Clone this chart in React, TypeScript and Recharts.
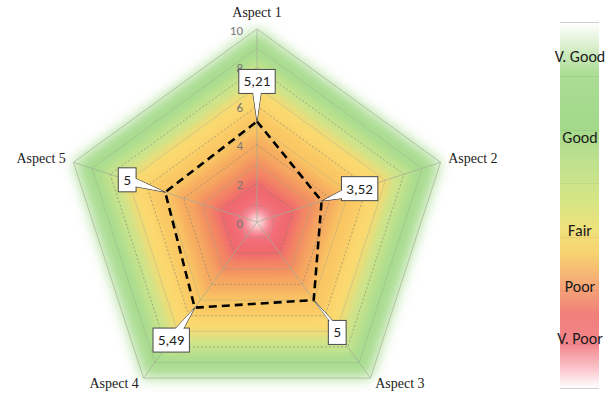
import React from 'react';
import { RadarChart, Radar, PolarAngleAxis, PolarRadiusAxis, LabelList } from 'recharts';

// scores per aspect, 0..10 scale
const aspects = ['Aspect 1', 'Aspect 2', 'Aspect 3', 'Aspect 4', 'Aspect 5'];
const scores = [5.21, 3.52, 5, 5.49, 5];
const radiusTicks = [0, 2, 4, 6, 8, 10];

// background rating bands, drawn outer to inner
const bandLevels = [10, 8.4, 7.3, 6.0, 4.6, 3.4, 2.4, 1.3, 0.5];
const bandColors = ['#a8dc8f', '#cbe48c', '#fbd96f', '#fac864', '#f6aa60', '#f38a62', '#f0686e', '#f47482', '#ffffff'];
const ringLevels = [9, 7, 5, 3, 1];

const ratingLabels = ['V. Good', 'Good', 'Fair', 'Poor', 'V. Poor'];

const W = 609;
const H = 397;
const CX = 257;
const CY = 222;
const OUTER = 193;
const SANS = 'Carlito, Calibri, Lato, sans-serif';
const SERIF = '"Liberation Serif", "DejaVu Serif", serif';

const legendLabelY = [57, 138, 231, 287, 339];

const data = aspects.map((name, i) => {
  const row: Record<string, number | string> = { name, score: scores[i], frame: 10 };
  bandLevels.forEach((v, b) => (row[`band${b}`] = v));
  return row;
});

const toPoints = (pts: { x: number; y: number }[], k = 1) =>
  pts.map((p) => `${CX + (p.x - CX) * k},${CY + (p.y - CY) * k}`).join(' ');

const bandShape = (color: string, idx: number) => (props: any) => (
  <g>
    {idx === 0 && (
      <defs>
        <filter id="bandBlurWide" x="-30%" y="-30%" width="160%" height="160%">
          <feGaussianBlur stdDeviation="7" />
        </filter>
        <filter id="bandBlur" x="-30%" y="-30%" width="160%" height="160%">
          <feGaussianBlur stdDeviation="5.5" />
        </filter>
      </defs>
    )}
    <polygon
      points={toPoints(props.points)}
      fill={color}
      filter={idx === 0 ? 'url(#bandBlurWide)' : 'url(#bandBlur)'}
    />
  </g>
);

// spokes, dotted rings at the radius ticks, faint rings in between, solid outline
const FrameShape = (props: any) => {
  const pts = props.points as { x: number; y: number }[];
  return (
    <g>
      {ringLevels.map((v) => (
        <polygon key={`r${v}`} points={toPoints(pts, v / 10)} fill="none" stroke="#9aa58f" strokeOpacity={0.45} strokeWidth={0.8} />
      ))}
      {radiusTicks
        .filter((t) => t > 0 && t < 10)
        .map((t) => (
          <polygon key={`t${t}`} points={toPoints(pts, t / 10)} fill="none" stroke="#7a7a7a" strokeOpacity={0.7} strokeWidth={0.8} strokeDasharray="2 2" />
        ))}
      {pts.map((p, i) => (
        <line key={`s${i}`} x1={CX} y1={CY} x2={p.x} y2={p.y} stroke="#a3ad98" strokeOpacity={0.8} strokeWidth={0.9} />
      ))}
      <polygon points={toPoints(pts)} fill="none" stroke="#b2c2a6" strokeWidth={1} />
    </g>
  );
};

const Callout = (props: any) => {
  const px = props.x ?? props.viewBox?.x;
  const py = props.y ?? props.viewBox?.y;
  if (px == null || py == null) return null;
  const text = String(props.value).replace('.', ',');
  const dx = px - CX;
  const dy = py - CY;
  const len = Math.hypot(dx, dy) || 1;
  const bx = px + (dx / len) * 40;
  const by = py + (dy / len) * 40;
  const digits = text.replace(/[^0-9]/g, '').length;
  const w = 10 + digits * 7.8 + (text.includes(',') ? 3 : 0);
  const h = 24;

  // tail base where the line from the box centre to the point leaves the box
  const ex = px - bx;
  const ey = py - by;
  const tx = Math.abs(ex) > 0.001 ? w / 2 / Math.abs(ex) : Infinity;
  const ty = Math.abs(ey) > 0.001 ? h / 2 / Math.abs(ey) : Infinity;
  const t = Math.min(tx, ty);
  const b0x = bx + ex * t;
  const b0y = by + ey * t;
  let base: [number, number][];
  if (tx < ty) {
    const y1 = Math.max(by - h / 2 + 1, b0y - 4);
    const y2 = Math.min(by + h / 2 - 1, b0y + 4);
    base = [[b0x, y1], [b0x, y2]];
  } else {
    const x1 = Math.max(bx - w / 2 + 1, b0x - 4);
    const x2 = Math.min(bx + w / 2 - 1, b0x + 4);
    base = [[x1, b0y], [x2, b0y]];
  }
  const n = Math.hypot(ex, ey) || 1;
  const inx = (-ex / n) * 1.5;
  const iny = (-ey / n) * 1.5;
  const tail = `${base[0][0]},${base[0][1]} ${base[1][0]},${base[1][1]} ${px},${py}`;
  const cover = `${base[0][0] + inx},${base[0][1] + iny} ${base[1][0] + inx},${base[1][1] + iny} ${px - (ex / n) * 2},${py - (ey / n) * 2}`;

  return (
    <g>
      <polygon points={tail} fill="#fff" stroke="#4a4a4a" strokeWidth={1} />
      <rect x={bx - w / 2} y={by - h / 2} width={w} height={h} fill="#fff" stroke="#4a4a4a" strokeWidth={1} />
      <polygon points={cover} fill="#fff" />
      <text x={bx} y={by} textAnchor="middle" dominantBaseline="central" fontFamily={SANS} fontSize={15} fill="#1f1f1f">
        {text}
      </text>
    </g>
  );
};

const AngleTick = (props: any) => {
  const { x, y, payload, textAnchor } = props;
  const top = y < CY - OUTER * 0.6;
  return (
    <text
      x={x}
      y={top ? y - 4 : y - 1}
      textAnchor={textAnchor}
      dominantBaseline={top ? 'auto' : 'central'}
      fontFamily={SERIF}
      fontSize={14}
      fill="#222"
    >
      {payload.value}
    </text>
  );
};

const RadiusTick = (props: any) => (
  <text x={props.x - 14} y={props.y + 1} textAnchor="end" dominantBaseline="central" fontFamily={SANS} fontSize={13} fill="#767676">
    {props.payload.value}
  </text>
);

const legendGradient =
  'linear-gradient(to bottom, #ffffff 0%, #dcf0d0 6%, #abdd94 14%, #a2d98a 28%, #bfe190 38%, #d4e585 48%, #eee27c 56%, #f7d370 63%, #f5a676 72%, #f07f7a 80%, #f2868b 88%, #fbc8ce 95%, #ffffff 100%)';

export default function App() {
  return (
    <div style={{ position: 'absolute', left: 0, top: 0, width: W, height: H, background: '#fff' }}>
      <RadarChart
        width={W}
        height={H}
        data={data}
        cx={CX}
        cy={CY}
        outerRadius={OUTER}
        margin={{ top: 0, right: 0, bottom: 0, left: 0 }}
      >
        <PolarAngleAxis dataKey="name" tick={<AngleTick />} tickLine={false} axisLine={false} />
        <PolarRadiusAxis
          angle={90}
          domain={[0, 10]}
          tickCount={radiusTicks.length}
          ticks={radiusTicks}
          axisLine={false}
          tickLine={false}
          tick={<RadiusTick />}
        />
        {bandLevels.map((_, b) => (
          <Radar
            key={`band${b}`}
            dataKey={`band${b}`}
            stroke="none"
            fill={bandColors[b]}
            shape={bandShape(bandColors[b], b)}
            dot={false}
            isAnimationActive={false}
          />
        ))}
        <Radar dataKey="frame" stroke="none" fill="none" shape={FrameShape} dot={false} isAnimationActive={false} />
        <Radar
          dataKey="score"
          stroke="#000"
          strokeWidth={2.6}
          strokeDasharray="8 5"
          fill="none"
          fillOpacity={0}
          dot={false}
          isAnimationActive={false}
        >
          <LabelList dataKey="score" content={<Callout />} />
        </Radar>
      </RadarChart>

      {/* rating scale */}
      <div
        style={{
          position: 'absolute',
          left: 560,
          top: 22,
          width: 39,
          height: 365,
          background: legendGradient,
          borderTop: '1px solid #cfcfcf',
          borderBottom: '1px solid #cfcfcf',
        }}
      >
        {[53, 107, 160, 214, 267, 321].map((t) => (
          <div key={t} style={{ position: 'absolute', left: 0, top: t, width: 39, height: 1, background: 'rgba(0,0,0,0.05)' }} />
        ))}
      </div>
      {ratingLabels.map((label, i) => (
        <div
          key={label}
          style={{
            position: 'absolute',
            left: 540,
            width: 80,
            top: legendLabelY[i] - 10,
            height: 20,
            lineHeight: '20px',
            textAlign: 'center',
            fontFamily: SANS,
            fontSize: 16,
            color: '#1a1a1a',
          }}
        >
          {label}
        </div>
      ))}
    </div>
  );
}
